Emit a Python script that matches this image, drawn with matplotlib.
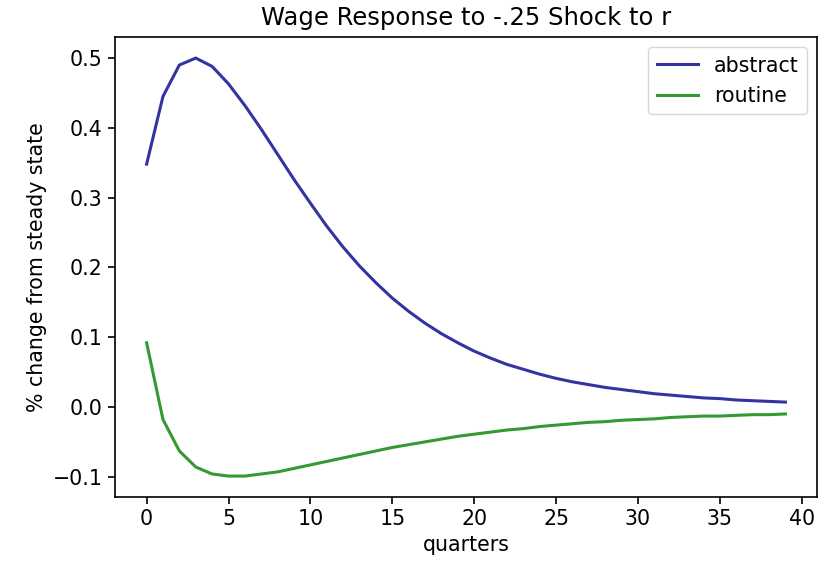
#!/usr/bin/env python3
"""Wage impulse response to a -.25 shock to r (abstract vs routine)."""
import numpy as np
import matplotlib
matplotlib.use('Agg')
import matplotlib.pyplot as plt

# quarters after the shock
quarters = np.arange(40)

# % change from steady state
abstract = [0.348, 0.445, 0.490, 0.500, 0.488, 0.463, 0.432, 0.398, 0.362, 0.326,
            0.292, 0.259, 0.229, 0.202, 0.178, 0.156, 0.137, 0.120, 0.105, 0.092,
            0.080, 0.070, 0.061, 0.054, 0.047, 0.041, 0.036, 0.032, 0.028, 0.025,
            0.022, 0.019, 0.017, 0.015, 0.013, 0.012, 0.010, 0.009, 0.008, 0.007]
routine = [0.092, -0.018, -0.063, -0.086, -0.096, -0.099, -0.099, -0.096, -0.093, -0.088,
           -0.083, -0.078, -0.073, -0.068, -0.063, -0.058, -0.054, -0.050, -0.046, -0.042,
           -0.039, -0.036, -0.033, -0.031, -0.028, -0.026, -0.024, -0.022, -0.021, -0.019,
           -0.018, -0.017, -0.015, -0.014, -0.013, -0.013, -0.012, -0.011, -0.011, -0.010]

fig = plt.figure(figsize=(8.19, 5.67), dpi=100)
ax = fig.add_axes([0.140, 0.1235, 0.858, 0.811])

ax.plot(quarters, abstract, color='darkblue', alpha=0.8, lw=2.2, label='abstract')
ax.plot(quarters, routine, color='green', alpha=0.8, lw=2.2, label='routine')

ax.set_title('Wage Response to -.25 Shock to r', fontsize=17.5, pad=9)
ax.set_xlabel('quarters', fontsize=14.8)
ax.set_ylabel('% change from steady state', fontsize=14.8)
ax.tick_params(labelsize=14.8, width=1.2, length=5.2)
for sp in ax.spines.values():
    sp.set_linewidth(1.2)
ax.legend(loc='upper right', fontsize=14.8)

fig.savefig('out.png', dpi=100)
